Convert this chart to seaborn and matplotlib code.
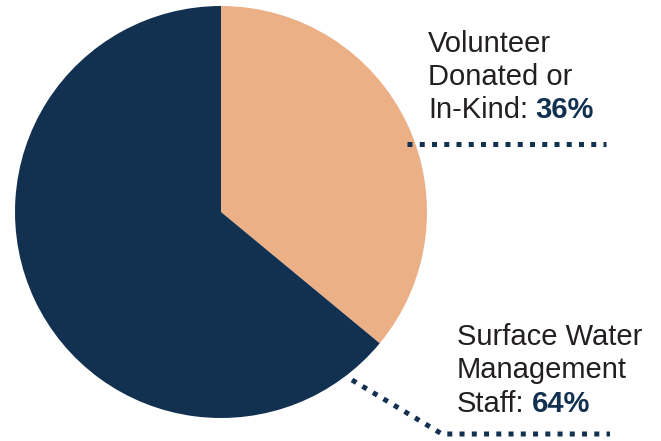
import matplotlib
matplotlib.use("Agg")
import seaborn as sns
from matplotlib import pyplot as plt

# data
categories = ["Volunteer Donated or In-Kind", "Surface Water Management Staff"]
shares = [36, 64]
label_lines = [["Volunteer", "Donated or", "In-Kind:"],
               ["Surface Water", "Management", "Staff:"]]
pct_labels = ["36%", "64%"]
colors = ["#ecb087", "#12304f"]

sns.set_theme(style="white")
plt.rcParams['font.family'] = ['Liberation Sans', 'DejaVu Sans']

text_color = "#231f20"
navy = colors[1]

fig = plt.figure(figsize=(6.61, 4.41), dpi=100)
ax = fig.add_axes([0, 0, 1, 1])
ax.pie(shares, colors=colors, startangle=90, counterclock=False,
       center=(221, 229), radius=206, wedgeprops=dict(linewidth=0))
ax.set_xlim(0, 661)
ax.set_ylim(0, 441)
ax.set_aspect('equal')
ax.axis('off')

# labels, one line at a time so the percent can be bold
label_pos = [(428, [389, 356, 323]), (457, [96, 63, 29])]
for lines, pct, (x0, ys) in zip(label_lines, pct_labels, label_pos):
    last = None
    for line, y in zip(lines, ys):
        last = ax.text(x0, y, line, fontsize=21, color=text_color,
                       ha='left', va='baseline')
    ax.annotate(pct, xy=(1, 0), xycoords=last, xytext=(5.5, 0),
                textcoords='offset points', fontsize=21, fontweight='bold',
                color=navy, ha='left', va='bottom')

# dotted leader lines
dot_style = dict(color=navy, linewidth=3.6, linestyle=(0, (1, 1.45)),
                 dash_capstyle='butt', solid_capstyle='butt')
ax.plot([407, 606], [297, 297], **dot_style)
ax.plot([352, 442, 610], [61, 7, 7], **dot_style)

fig.savefig("out.png", dpi=100)
